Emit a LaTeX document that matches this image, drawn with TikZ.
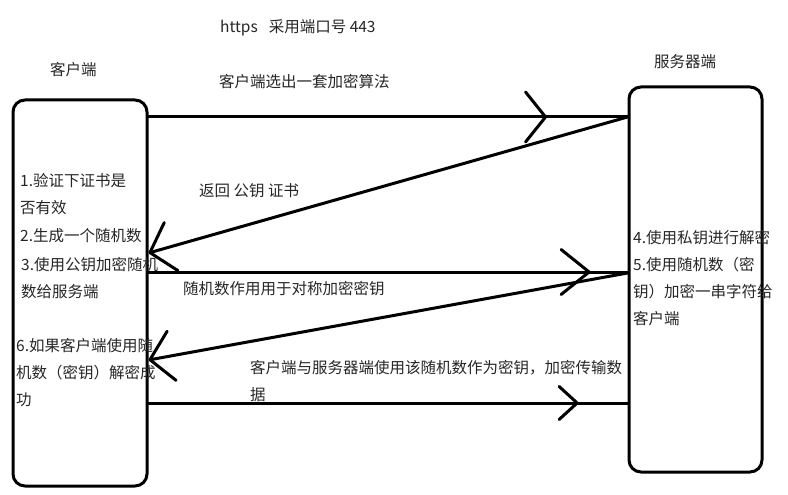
\documentclass[tikz,border=0pt]{standalone}
\usepackage{fontspec}
\setmainfont{Noto Sans CJK SC}
\usetikzlibrary{arrows.meta,positioning,decorations.markings}

\begin{document}
\begin{tikzpicture}[
    x=1pt, y=-1pt,
    box/.style={rectangle, rounded corners=12pt, draw=black, line width=3pt, inner sep=0pt},
    txt/.style={font=\fontsize{15.5}{27}\selectfont, text=black!85, inner sep=0pt, align=left, anchor=base west},
    link/.style={line width=3pt, line cap=round},
    midarrow/.style args={#1 of #2 and #3}{postaction={decorate}, decoration={markings, mark=at position #1 with {\arrow{Straight Barb[length=#2, width=#3, round]}}}},
    backarrow/.style={-{Straight Barb[length=22pt, width=50pt, round]}},
]
\useasboundingbox (0,0) rectangle (788,495);

% Two parties
\node[box, minimum width=134pt, minimum height=386pt] (client) at (80,293) {};
\node[box, minimum width=133pt, minimum height=385pt] (server) at (695.5,279.5) {};

% Titles
\node[txt] (title) at (220,33) {https\hspace{11pt}采用端口号 443};
\node[txt] (clientname) at (50,76) {客户端};
\node[txt] (servername) at (654,68) {服务器端};

% Steps on the client side (base = last line)
\node[txt] (verify) at (20,213) {1.验证下证书是\\否有效};
\node[txt] (random) at (20,241) {2.生成一个随机数};
\node[txt] (encrypt) at (21,297) {3.使用公钥加密随机\\数给服务端};
\node[txt] (success) at (16,405) {6.如果客户端使用随\\机数（密钥）解密成\\功};

% Steps on the server side
\node[txt] (decrypt) at (633,324) {4.使用私钥进行解密\\5.使用随机数（密\\钥）加密一串字符给\\客户端};

% Messages
\node[txt] (hello) at (219,88) {客户端选出一套加密算法};
\node[txt] (cert) at (199,196) {返回 公钥 证书};
\node[txt] (symkey) at (183,294) {随机数作用用于对称加密密钥};
\node[txt] (transfer) at (250,400) {客户端与服务器端使用该随机数作为密钥，加密传输数\\据};

% Connections
\draw[link, midarrow=0.832 of 20pt and 50pt] (client.east |- 0,117) -- (server.west |- 0,117);
\draw[link, backarrow] (server.west |- 0,117) -- (client.east |- 0,253);
\draw[link, midarrow=0.923 of 28pt and 45pt] (client.east |- 0,272) -- (server.west |- 0,272);
\draw[link, backarrow] (server.west |- 0,273) -- (client.east |- 0,360);
\draw[link, midarrow=0.898 of 18pt and 33pt] (client.east |- 0,403) -- (server.west |- 0,403);

\end{tikzpicture}
\end{document}
